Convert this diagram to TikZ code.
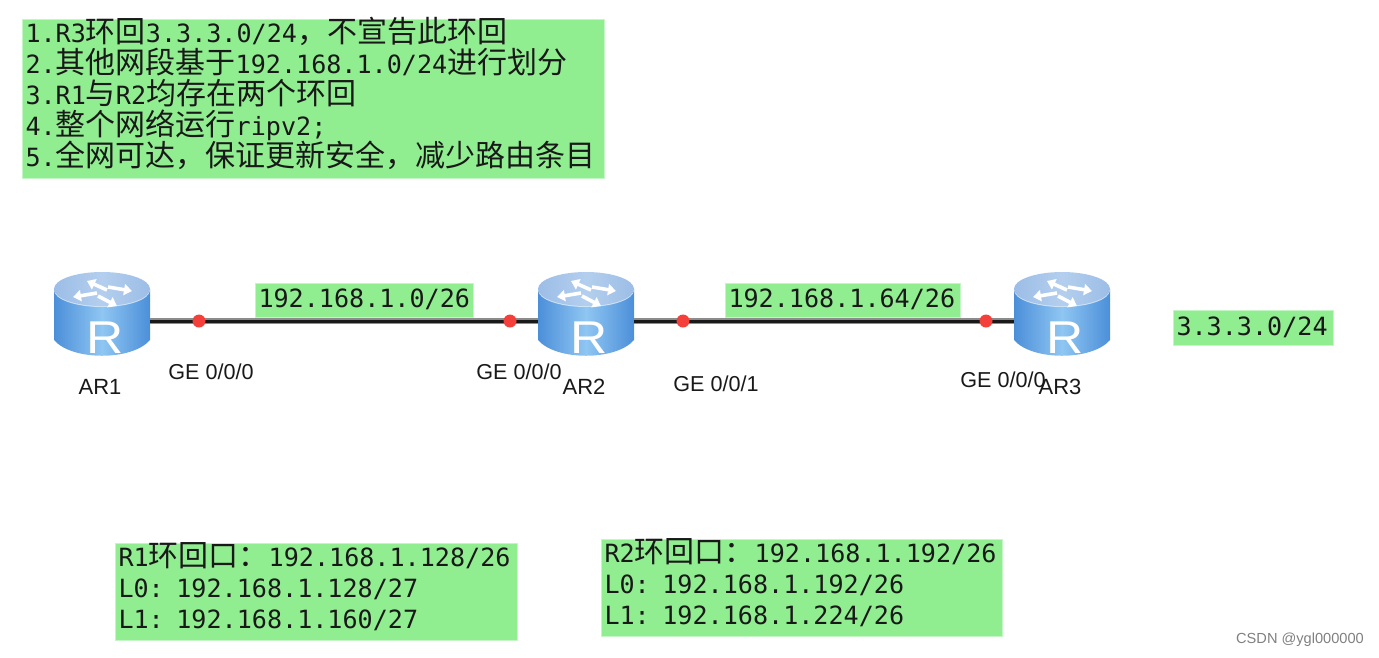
\documentclass[tikz,border=0pt]{standalone}
\usepackage{fontspec}
\setmainfont{Liberation Sans}
\newfontfamily\cjk{Noto Sans CJK SC}
\newfontfamily\monof{DejaVu Sans Mono}
\usetikzlibrary{arrows.meta}
\definecolor{boxgreen}{HTML}{90EE90}
\definecolor{boxedge}{HTML}{C4F5C4}
\definecolor{bodyside}{HTML}{4C8FD9}
\definecolor{bodymid}{HTML}{8FC6F2}
\definecolor{topside}{HTML}{9CBDE6}
\definecolor{topmid}{HTML}{B4CFEE}
\definecolor{rimblue}{HTML}{CFE3F7}
\definecolor{portred}{HTML}{F4403A}
\newcommand{\zh}[1]{{\cjk\fontsize{30}{31}\selectfont #1}}
\newcommand{\netfont}{\monof\fontsize{25.1}{31}\selectfont}
\tikzset{
  x=1pt,y=-1pt,
  notebox/.style={anchor=north west,fill=boxgreen,draw=boxedge,line width=1pt,inner xsep=3pt,inner ysep=0pt,align=left,font=\netfont,text=black!90},
  routerbox/.style={minimum width=96pt,minimum height=70pt,inner sep=0pt},
  routerletter/.style={text=white,xscale=1.12,font=\fontsize{46}{46}\selectfont,inner sep=0pt},
  portdot/.style={circle,fill=portred,inner sep=0pt,minimum size=13pt},
  iflabel/.style={font=\fontsize{21.6}{24}\selectfont,inner sep=0pt,text=black!90},
  devlabel/.style={font=\fontsize{22}{24}\selectfont,inner sep=0pt,text=black!90},
  linkblack/.style={line width=3pt,black!90},
  linkgray/.style={line width=6pt,black!45},
  flow/.style={white,line width=3.6pt,-{Triangle[width=11pt,length=8pt]}}
}
\newcommand{\routericon}[3]{%
  \begin{scope}[shift={(#1,#2)}]
    \shade[left color=bodyside,right color=bodyside,middle color=bodymid]
      (-48,-32) -- (48,-32) -- (48,19)
      .. controls (30,40) and (-30,40) .. (-48,19) -- cycle;
    \fill[rimblue] (0,-31) ellipse[x radius=48,y radius=17];
    \shade[left color=topside,right color=topside,middle color=topmid]
      (0,-32) ellipse[x radius=48,y radius=17];
    \draw[flow] (5,-31) -- (-15,-40);
    \draw[flow] (6,-34) -- (30,-30);
    \draw[flow] (-5,-28) -- (-29,-24);
    \draw[flow] (-4,-25) -- (15,-15);
  \end{scope}
  \node[routerbox] (#3) at (#1,#2) {};
}
\begin{document}
\begin{tikzpicture}
\useasboundingbox (0,0) rectangle (1379,657);
% routers
\routericon{102}{321}{ar1}
\routericon{586}{321}{ar2}
\routericon{1062}{321}{ar3}
\node[routerletter] (r1) at (105,338) {R};
\node[routerletter] (r2) at (589,338) {R};
\node[routerletter] (r3) at (1065,338) {R};
% links
\draw[linkgray] (ar1.east) -- (ar2.west);
\draw[linkblack] (ar1.east) -- (ar2.west);
\draw[linkgray] (ar2.east) -- (ar3.west);
\draw[linkblack] (ar2.east) -- (ar3.west);
% ports
\node[portdot] (p1) at (199,321) {};
\node[portdot] (p2) at (510,321) {};
\node[portdot] (p3) at (683,321) {};
\node[portdot] (p4) at (986,321) {};
% device and interface labels
\node[devlabel] (l1) at (100,387) {AR1};
\node[devlabel] (l2) at (584,387) {AR2};
\node[devlabel] (l3) at (1060,387) {AR3};
\node[iflabel] (g1) at (211,372) {GE 0/0/0};
\node[iflabel] (g2) at (519,372) {GE 0/0/0};
\node[iflabel] (g3) at (716,384) {GE 0/0/1};
\node[iflabel] (g4) at (1003,380) {GE 0/0/0};
% green notes
\node[notebox,text width=576pt,text height=23pt,text depth=136pt] (task) at (22,19) {%
1.R3\zh{环回}3.3.3.0/24\zh{，不宣告此环回}\\
2.\zh{其他网段基于}192.168.1.0/24\zh{进行划分}\\
3.R1\zh{与}R2\zh{均存在两个环回}\\
4.\zh{整个网络运行}ripv2;\\
5.\zh{全网可达，保证更新安全，减少路由条目}};
\node[notebox,text width=212pt,text height=24pt,text depth=10pt] (n1) at (255,283) {192.168.1.0/26};
\node[notebox,text width=229pt,text height=24pt,text depth=10pt] (n2) at (725,283) {192.168.1.64/26};
\node[notebox,text width=154pt,text height=25pt,text depth=10pt] (n3) at (1173,310) {3.3.3.0/24};
\node[notebox,text width=396pt,text height=23pt,text depth=74pt] (r1lo) at (115,543) {%
R1\zh{环回口：}192.168.1.128/26\\
L0: 192.168.1.128/27\\
L1: 192.168.1.160/27};
\node[notebox,text width=395pt,text height=23pt,text depth=74pt] (r2lo) at (601,539) {%
R2\zh{环回口：}192.168.1.192/26\\
L0: 192.168.1.192/26\\
L1: 192.168.1.224/26};
\node[inner sep=0pt,text=black!50,font=\fontsize{14.6}{16}\selectfont] (wm) at (1300,640) {CSDN @ygl000000};
\end{tikzpicture}
\end{document}
